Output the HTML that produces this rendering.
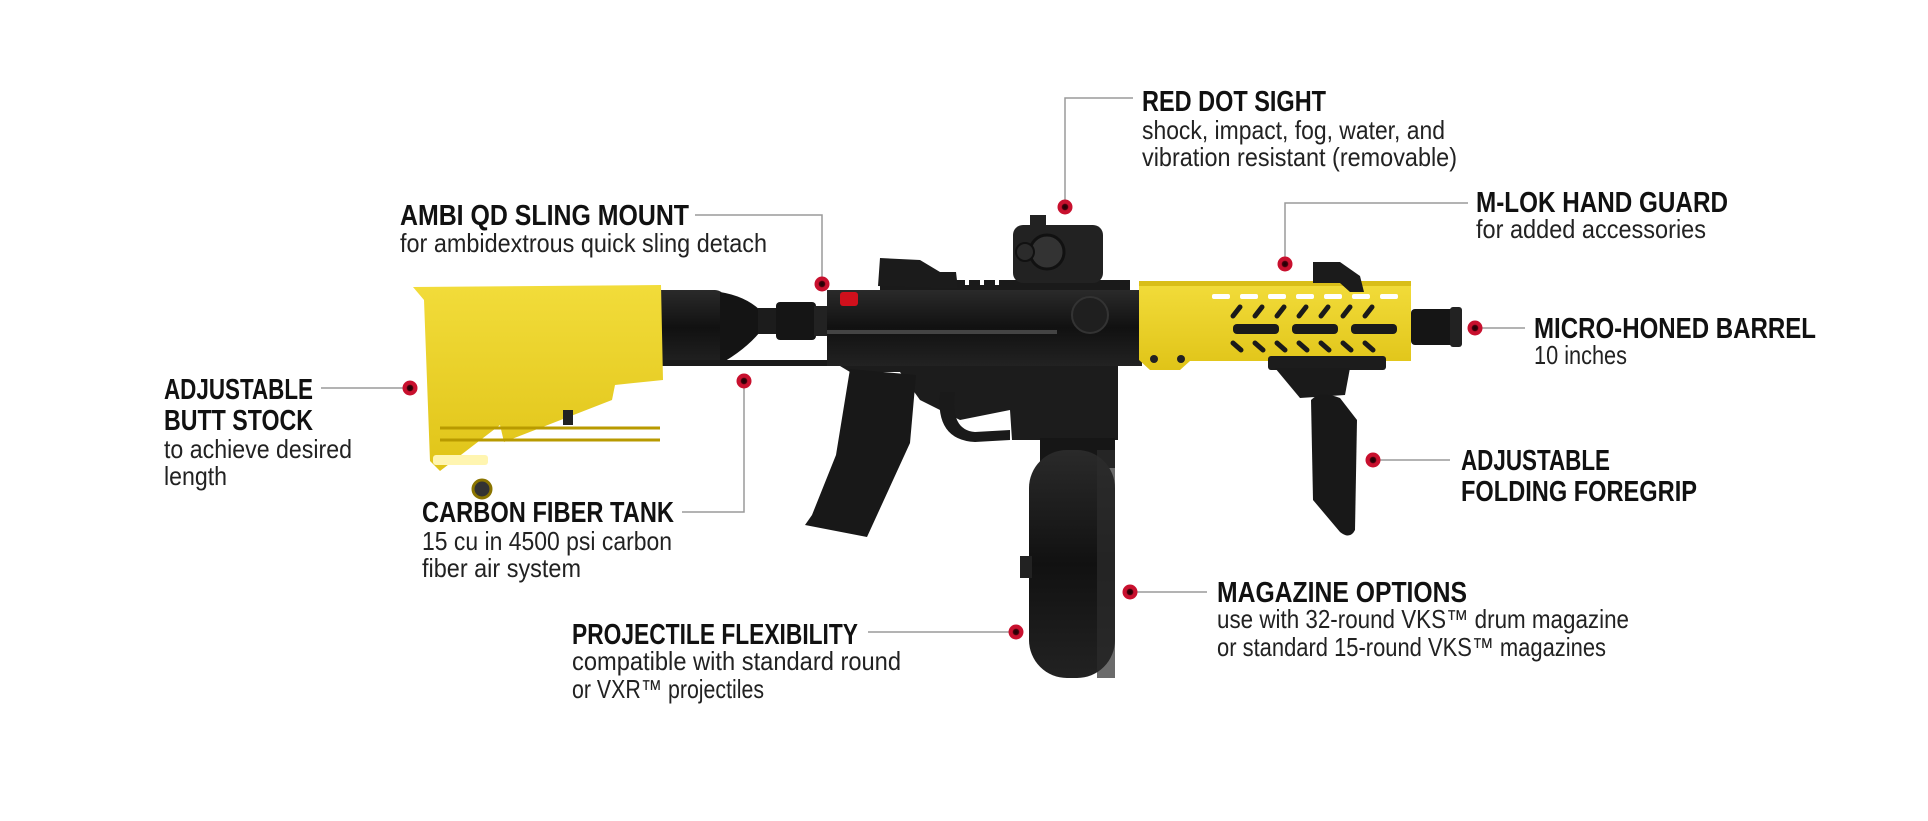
<!DOCTYPE html>
<html><head><meta charset="utf-8"><style>
html,body{margin:0;padding:0;background:#fff;}
svg{display:block;}
.h{font-family:"Liberation Sans",Arial,sans-serif;font-weight:bold;font-size:29px;fill:#111;}
.s{font-family:"Liberation Sans",Arial,sans-serif;font-size:26px;fill:#222;}
.ln{stroke:#9a9a9a;stroke-width:1.5;fill:none;}
</style></head><body>
<svg width="1928" height="821" viewBox="0 0 1928 821" xmlns="http://www.w3.org/2000/svg">
<defs>
<linearGradient id="yl" x1="0" y1="0" x2="0" y2="1"><stop offset="0" stop-color="#f2dc3a"/><stop offset="1" stop-color="#e0c418"/></linearGradient>
<linearGradient id="bk" x1="0" y1="0" x2="0" y2="1"><stop offset="0" stop-color="#2a2a2a"/><stop offset="0.5" stop-color="#111"/><stop offset="1" stop-color="#222"/></linearGradient>
<radialGradient id="dot"><stop offset="0" stop-color="#1a0005"/><stop offset="0.35" stop-color="#3a0008"/><stop offset="0.5" stop-color="#c8102e"/><stop offset="1" stop-color="#c8102e"/></radialGradient>
</defs>

<!-- tank & rod -->
<rect x="650" y="290" width="75" height="76" rx="10" fill="url(#bk)"/>
<path d="M720 292 Q745 296 760 310 L760 332 Q745 350 720 364 Z" fill="#141414"/>
<rect x="758" y="308" width="20" height="26" fill="#1c1c1c"/>
<rect x="776" y="302" width="40" height="38" rx="4" fill="#151515"/>
<rect x="814" y="306" width="22" height="30" fill="#222"/>
<rect x="650" y="360" width="186" height="6" fill="#1a1a1a"/>

<!-- butt stock -->
<polygon points="413,287 661,285 663,380 615,385 612,400 504,442 500,425 440,471 430,461 424,300" fill="url(#yl)"/>
<g stroke="#b89a00" stroke-width="3">
<line x1="440" y1="428" x2="660" y2="428"/><line x1="440" y1="440" x2="660" y2="440"/>
</g>
<rect x="433" y="455" width="55" height="10" rx="3" fill="#fff5b0"/>
<circle cx="482" cy="489" r="9" fill="#333" stroke="#8a7400" stroke-width="3"/>
<rect x="563" y="410" width="10" height="15" fill="#222"/>

<!-- receiver upper -->
<rect x="827" y="290" width="315" height="76" fill="url(#bk)"/>
<rect x="880" y="280" width="250" height="10" fill="#1a1a1a"/>
<g fill="#fff"><rect x="890" y="280" width="4" height="5"/><rect x="905" y="280" width="4" height="5"/><rect x="920" y="280" width="4" height="5"/><rect x="935" y="280" width="4" height="5"/><rect x="950" y="280" width="4" height="5"/><rect x="965" y="280" width="4" height="5"/><rect x="980" y="280" width="4" height="5"/><rect x="995" y="280" width="4" height="5"/></g>
<rect x="827" y="330" width="230" height="4" fill="#444"/>
<rect x="840" y="292" width="18" height="14" rx="3" fill="#d0101c"/>
<!-- rear sight -->
<polygon points="878,286 880,258 920,260 940,272 956,272 958,289" fill="#1b1b1b"/>
<!-- red dot -->
<rect x="1013" y="225" width="90" height="58" rx="10" fill="#222"/>
<circle cx="1047" cy="252" r="17" fill="#333" stroke="#111" stroke-width="3"/>
<circle cx="1025" cy="252" r="9" fill="#2b2b2b" stroke="#111" stroke-width="2"/>
<rect x="1030" y="215" width="16" height="12" fill="#222"/>
<circle cx="1090" cy="315" r="18" fill="#1f1f1f" stroke="#333" stroke-width="2"/>
<!-- lower receiver -->
<polygon points="840,366 1118,366 1118,440 1012,440 1010,410 960,420 920,400 900,372 850,372" fill="#1c1c1c"/>
<path d="M940 392 Q935 440 975 442 L1010 440 L1010 430 L975 432 Q950 430 955 392 Z" fill="#1a1a1a"/>
<!-- pistol grip -->
<polygon points="850,369 916,375 910,443 867,537 805,525 812,515 836,455" fill="#181818"/>
<!-- drum -->
<rect x="1040" y="438" width="75" height="30" fill="#161616"/>
<rect x="1029" y="450" width="86" height="228" rx="38" fill="url(#bk)"/>
<rect x="1097" y="450" width="18" height="228" fill="#2c2c2c" opacity="0.7"/>
<rect x="1020" y="556" width="12" height="22" fill="#222"/>

<!-- handguard -->
<polygon points="1139,283 1411,283 1411,361 1190,361 1180,370 1150,370 1139,360" fill="url(#yl)"/>
<rect x="1139" y="281" width="272" height="5" fill="#d9be18"/>
<g fill="#fff"><rect x="1212" y="294" width="18" height="5" rx="2"/><rect x="1240" y="294" width="18" height="5" rx="2"/><rect x="1268" y="294" width="18" height="5" rx="2"/><rect x="1296" y="294" width="18" height="5" rx="2"/><rect x="1324" y="294" width="18" height="5" rx="2"/><rect x="1352" y="294" width="18" height="5" rx="2"/><rect x="1380" y="294" width="18" height="5" rx="2"/></g>
<g fill="#1a1a1a"><rect x="1233" y="324" width="46" height="10" rx="4"/><rect x="1292" y="324" width="46" height="10" rx="4"/><rect x="1351" y="324" width="46" height="10" rx="4"/></g>
<g stroke="#1a1a1a" stroke-width="5" stroke-linecap="round"><line x1="1233" y1="316" x2="1240" y2="307"/><line x1="1255" y1="316" x2="1262" y2="307"/><line x1="1277" y1="316" x2="1284" y2="307"/><line x1="1299" y1="316" x2="1306" y2="307"/><line x1="1321" y1="316" x2="1328" y2="307"/><line x1="1343" y1="316" x2="1350" y2="307"/><line x1="1365" y1="316" x2="1372" y2="307"/><line x1="1233" y1="343" x2="1241" y2="350"/><line x1="1255" y1="343" x2="1263" y2="350"/><line x1="1277" y1="343" x2="1285" y2="350"/><line x1="1299" y1="343" x2="1307" y2="350"/><line x1="1321" y1="343" x2="1329" y2="350"/><line x1="1343" y1="343" x2="1351" y2="350"/><line x1="1365" y1="343" x2="1373" y2="350"/></g>
<circle cx="1154" cy="359" r="4" fill="#222"/><circle cx="1181" cy="359" r="4" fill="#222"/>
<!-- front sight -->
<polygon points="1313,283 1313,262 1340,262 1360,276 1364,292 1350,292 1340,283" fill="#1b1b1b"/>
<!-- barrel -->
<rect x="1411" y="309" width="46" height="36" rx="4" fill="#151515"/>
<rect x="1450" y="307" width="12" height="40" rx="3" fill="#222"/>
<!-- foregrip -->
<rect x="1268" y="356" width="118" height="14" rx="3" fill="#1c1c1c"/>
<polygon points="1275,368 1350,368 1345,395 1300,398" fill="#1a1a1a"/>
<path d="M1311 400 Q1320 390 1340 398 L1357 420 L1355 530 Q1350 540 1340 532 L1313 500 Z" fill="#181818"/>

<!-- connectors -->
<polyline class="ln" points="695,215 822,215 822,284"/>
<line class="ln" x1="321" y1="388" x2="410" y2="388"/>
<polyline class="ln" points="682,512 744,512 744,381"/>
<line class="ln" x1="868" y1="632" x2="1016" y2="632"/>
<polyline class="ln" points="1133,98 1065,98 1065,207"/>
<polyline class="ln" points="1468,203 1285,203 1285,264"/>
<line class="ln" x1="1475" y1="328" x2="1525" y2="328"/>
<line class="ln" x1="1373" y1="460" x2="1450" y2="460"/>
<line class="ln" x1="1130" y1="592" x2="1207" y2="592"/>

<!-- dots -->
<g fill="url(#dot)">
<circle cx="822" cy="284" r="7.5"/><circle cx="410" cy="388" r="7.5"/><circle cx="744" cy="381" r="7.5"/>
<circle cx="1016" cy="632" r="7.5"/><circle cx="1065" cy="207" r="7.5"/><circle cx="1285" cy="264" r="7.5"/>
<circle cx="1475" cy="328" r="7.5"/><circle cx="1373" cy="460" r="7.5"/><circle cx="1130" cy="592" r="7.5"/>
</g>

<!-- labels -->
<text class="h" x="400" y="225" textLength="289" lengthAdjust="spacingAndGlyphs">AMBI QD SLING MOUNT</text>
<text class="s" x="400" y="252" textLength="367" lengthAdjust="spacingAndGlyphs">for ambidextrous quick sling detach</text>

<text class="h" x="164" y="399" textLength="149" lengthAdjust="spacingAndGlyphs">ADJUSTABLE</text>
<text class="h" x="164" y="430" textLength="149" lengthAdjust="spacingAndGlyphs">BUTT STOCK</text>
<text class="s" x="164" y="458" textLength="188" lengthAdjust="spacingAndGlyphs">to achieve desired</text>
<text class="s" x="164" y="485" textLength="63" lengthAdjust="spacingAndGlyphs">length</text>

<text class="h" x="422" y="522" textLength="252" lengthAdjust="spacingAndGlyphs">CARBON FIBER TANK</text>
<text class="s" x="422" y="550" textLength="250" lengthAdjust="spacingAndGlyphs">15 cu in 4500 psi carbon</text>
<text class="s" x="422" y="577" textLength="159" lengthAdjust="spacingAndGlyphs">fiber air system</text>

<text class="h" x="572" y="644" textLength="286" lengthAdjust="spacingAndGlyphs">PROJECTILE FLEXIBILITY</text>
<text class="s" x="572" y="670" textLength="329" lengthAdjust="spacingAndGlyphs">compatible with standard round</text>
<text class="s" x="572" y="698" textLength="192" lengthAdjust="spacingAndGlyphs">or VXR™ projectiles</text>

<text class="h" x="1142" y="111" textLength="184" lengthAdjust="spacingAndGlyphs">RED DOT SIGHT</text>
<text class="s" x="1142" y="139" textLength="303" lengthAdjust="spacingAndGlyphs">shock, impact, fog, water, and</text>
<text class="s" x="1142" y="166" textLength="315" lengthAdjust="spacingAndGlyphs">vibration resistant (removable)</text>

<text class="h" x="1476" y="212" textLength="252" lengthAdjust="spacingAndGlyphs">M-LOK HAND GUARD</text>
<text class="s" x="1476" y="238" textLength="230" lengthAdjust="spacingAndGlyphs">for added accessories</text>

<text class="h" x="1534" y="338" textLength="282" lengthAdjust="spacingAndGlyphs">MICRO-HONED BARREL</text>
<text class="s" x="1534" y="364" textLength="93" lengthAdjust="spacingAndGlyphs">10 inches</text>

<text class="h" x="1461" y="470" textLength="149" lengthAdjust="spacingAndGlyphs">ADJUSTABLE</text>
<text class="h" x="1461" y="501" textLength="236" lengthAdjust="spacingAndGlyphs">FOLDING FOREGRIP</text>

<text class="h" x="1217" y="602" textLength="250" lengthAdjust="spacingAndGlyphs">MAGAZINE OPTIONS</text>
<text class="s" x="1217" y="628" textLength="412" lengthAdjust="spacingAndGlyphs">use with 32-round VKS™ drum magazine</text>
<text class="s" x="1217" y="656" textLength="389" lengthAdjust="spacingAndGlyphs">or standard 15-round VKS™ magazines</text>
</svg>
</body></html>
